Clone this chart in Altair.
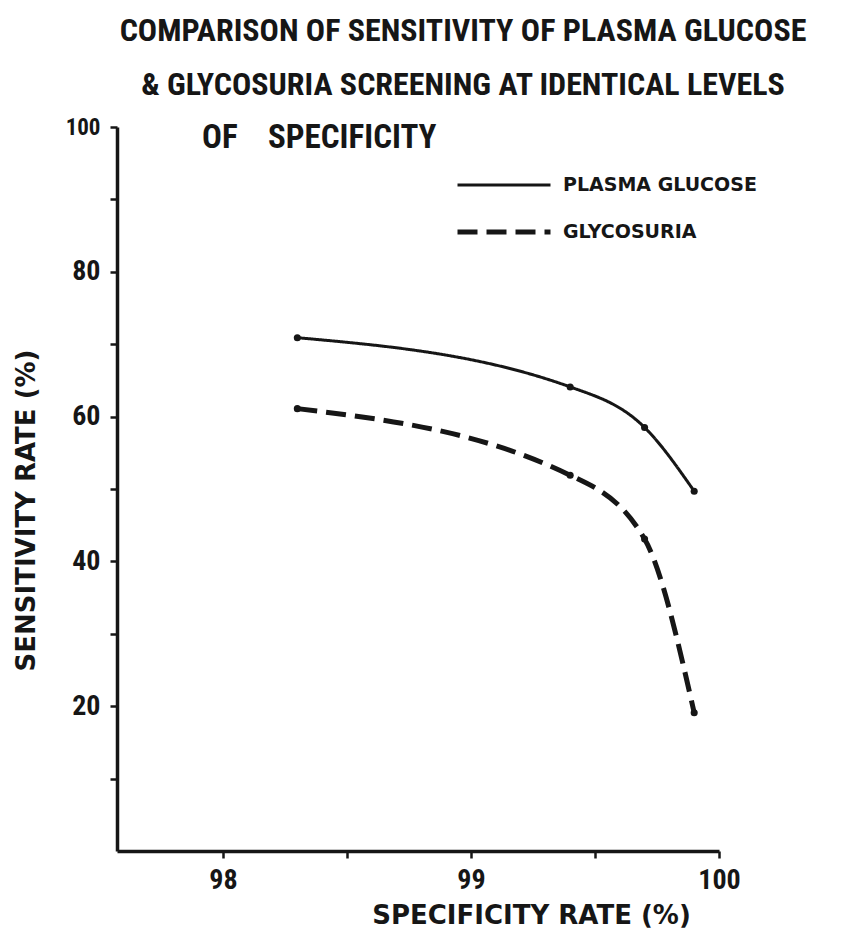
import altair as alt
import pandas as pd

# ---- data ----
series_names = ["PLASMA GLUCOSE", "GLYCOSURIA"]
specificity = [98.3, 99.4, 99.7, 99.9]
plasma_sensitivity = [70.9, 64.1, 58.5, 49.7]
glycosuria_sensitivity = [61.1, 51.9, 43.1, 19.1]
x_ticks = [98, 98.5, 99, 99.5, 100]
y_ticks = [10, 20, 30, 40, 50, 60, 70, 80, 90, 100]
title_lines = [
    "COMPARISON OF SENSITIVITY OF PLASMA GLUCOSE",
    "& GLYCOSURIA SCREENING AT IDENTICAL LEVELS",
]
title_line3 = ["OF\u00a0\u00a0\u00a0\u00a0SPECIFICITY"]
x_title = "SPECIFICITY  RATE (%)"
y_title = "SENSITIVITY  RATE (%)"

rows = []
for name, vals in zip(series_names, [plasma_sensitivity, glycosuria_sensitivity]):
    for i, (x, y) in enumerate(zip(specificity, vals)):
        rows.append({"series": name, "spec": x, "sens": y, "order": i})
df = pd.DataFrame(rows)

NARROW = "Roboto Condensed, DejaVu Sans Condensed, sans-serif"
WIDE = "DejaVu Sans, Liberation Sans, sans-serif"
INK = "#161616"

x_scale = alt.Scale(domain=[97.573, 100], nice=False, zero=False)
y_scale = alt.Scale(domain=[0, 100], nice=False, zero=True)

x_axis = alt.Axis(
    values=x_ticks,
    labelExpr="datum.value % 1 == 0 ? format(datum.value, 'd') : ''",
    grid=False,
    domainColor=INK, domainWidth=3.5,
    tickColor=INK, tickWidth=2.5, tickSize=7,
    labelFont=NARROW, labelFontSize=28, labelFontWeight="bold", labelColor=INK,
    labelPadding=8, labelFlush=False,
    title=x_title, titleFont=WIDE, titleFontSize=26, titleFontWeight="bold",
    titleColor=INK, titleX=414, titleY=64, titleAlign="center", titleBaseline="middle",
)
y_axis = alt.Axis(
    values=y_ticks,
    labelExpr="datum.value % 20 == 0 ? format(datum.value, 'd') : ''",
    grid=False,
    domainColor=INK, domainWidth=3.5,
    tickColor=INK, tickWidth=2.5, tickSize=7,
    labelFont=NARROW,
    labelFontSize={"condition": {"test": "datum.value == 100", "value": 23}, "value": 28},
    labelFontWeight="bold", labelColor=INK, labelPadding=10, labelFlush=False,
    title=y_title, titleFont=WIDE, titleFontSize=26, titleFontWeight="bold",
    titleColor=INK, titleX=-91, titleY=383, titleAlign="center", titleBaseline="middle",
    titleAngle=270,
)

base = alt.Chart(df)

lines = base.mark_line(interpolate="monotone", color=INK).encode(
    x=alt.X("spec:Q", scale=x_scale, axis=x_axis),
    y=alt.Y("sens:Q", scale=y_scale, axis=y_axis),
    strokeDash=alt.StrokeDash(
        "series:N",
        scale=alt.Scale(domain=series_names, range=[[1, 0], [20, 9]]),
        legend=alt.Legend(
            orient="none", legendX=338, legendY=43, title=None,
            symbolType="stroke", symbolSize=8649, symbolStrokeWidth=3.5,
            symbolStrokeColor=INK, clipHeight=30, rowPadding=17, padding=0,
            labelFont=WIDE, labelFontSize=19, labelFontWeight="bold",
            labelColor=INK, labelOffset=10, labelLimit=0,
        ),
    ),
    strokeWidth=alt.StrokeWidth(
        "series:N", scale=alt.Scale(domain=series_names, range=[3, 5]), legend=None
    ),
    order="order:Q",
)

points = base.mark_circle(color=INK, opacity=1, size=50).encode(
    x=alt.X("spec:Q", scale=x_scale),
    y=alt.Y("sens:Q", scale=y_scale),
)

line3 = alt.Chart(pd.DataFrame({"t": title_line3})).mark_text(
    align="left", baseline="middle", font=NARROW, fontSize=33, fontWeight="bold",
    color=INK
).encode(x=alt.value(85), y=alt.value(11), text="t:N")

chart = alt.layer(lines, points, line3).properties(
    width=602,
    height=724,
    title=alt.TitleParams(
        text=title_lines, anchor="middle", frame="group", dx=45, offset=14,
        font=NARROW, fontSize=32, fontWeight="bold", lineHeight=54, color=INK,
    ),
    padding={"left": 109, "top": 119, "right": 116, "bottom": 82},
    autosize=alt.AutoSizeParams(type="none"),
    background="white",
).configure_view(strokeWidth=0)

chart.save("out.html", embed_options={"renderer": "svg", "actions": False})
